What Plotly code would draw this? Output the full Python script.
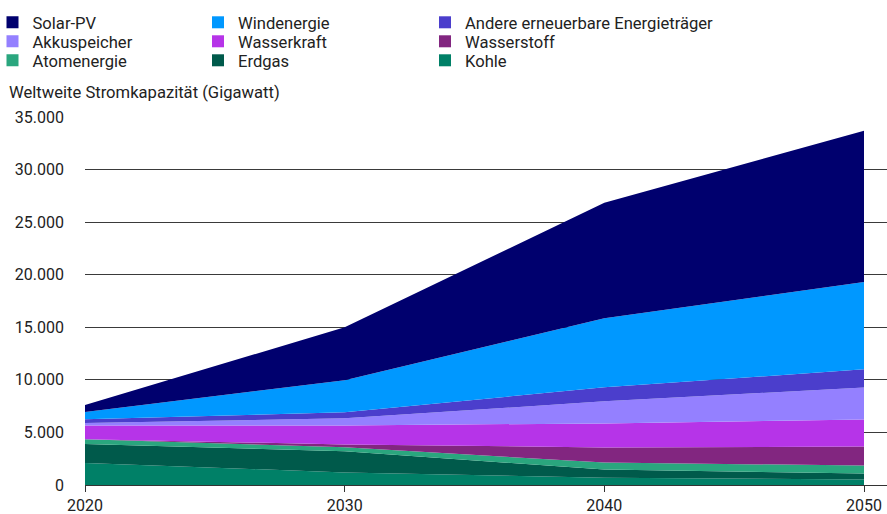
import plotly.graph_objects as go

# ---- data ----
years = [2020, 2030, 2040, 2050]
series_names = ["Kohle", "Erdgas", "Atomenergie", "Wasserstoff", "Wasserkraft",
                "Akkuspeicher", "Andere erneuerbare Energieträger", "Windenergie", "Solar-PV"]
kohle = [2100, 1200, 700, 520]
erdgas = [1800, 2000, 770, 570]
atom = [450, 380, 670, 760]
wasserstoff = [0, 280, 1430, 1810]
wasserkraft = [1300, 1810, 2290, 2570]
akku = [250, 670, 2100, 3050]
andere = [350, 570, 1330, 1720]
wind = [700, 3050, 6580, 8300]
solar = [650, 5050, 10970, 14400]
series_values = [kohle, erdgas, atom, wasserstoff, wasserkraft, akku, andere, wind, solar]
y_ticks = [0, 5000, 10000, 15000, 20000, 25000, 30000, 35000]
x_ticks = [2020, 2030, 2040, 2050]

colors = {
    "Solar-PV": "#00006E",
    "Windenergie": "#0098FF",
    "Andere erneuerbare Energieträger": "#4B3ECC",
    "Akkuspeicher": "#9480FF",
    "Wasserkraft": "#B634E8",
    "Wasserstoff": "#822680",
    "Atomenergie": "#2AA67E",
    "Erdgas": "#005A4B",
    "Kohle": "#008067",
}

# legend layout: (name, column, row)
legend_layout = [
    ("Solar-PV", 0, 0), ("Windenergie", 1, 0), ("Andere erneuerbare Energieträger", 2, 0),
    ("Akkuspeicher", 0, 1), ("Wasserkraft", 1, 1), ("Wasserstoff", 2, 1),
    ("Atomenergie", 0, 2), ("Erdgas", 1, 2), ("Kohle", 2, 2),
]
col_left_px = [-7.5, 198, 425]   # legend box left edge (page px)
row_px = [22.5, 41.5, 60.5]      # row centre y (page px)

W, H = 887, 514
ML, MR, MT, MB = 85, 0, 117, 29
PW, PH = W - ML - MR, H - MT - MB
FONT = "Roboto"
TXT = "#222222"

def px2x(px):
    return (px - ML) / PW

def py2y(py):
    return (H - MB - py) / PH

fig = go.Figure()
for name, vals in zip(series_names, series_values):
    fig.add_trace(go.Scatter(
        x=years, y=vals, name=name, mode="lines", stackgroup="one",
        line=dict(width=0, color=colors[name]), fillcolor=colors[name],
        showlegend=False, hoverinfo="skip",
    ))

legend_defs = {}
for i, (name, c, r) in enumerate(legend_layout):
    lid = "legend" if i == 0 else f"legend{i+1}"
    fig.add_trace(go.Scatter(
        x=[None], y=[None], mode="markers", name=name,
        marker=dict(symbol="square", size=12, color=colors[name], line=dict(width=0)),
        showlegend=True, legend=lid,
    ))
    legend_defs[lid] = dict(
        x=px2x(col_left_px[c]), xanchor="left",
        y=py2y(row_px[r]), yanchor="middle",
        bgcolor="rgba(0,0,0,0)", borderwidth=0,
        font=dict(family=FONT, size=16.6, color=TXT),
        itemclick=False, itemdoubleclick=False,
    )

fig.update_layout(
    width=W, height=H,
    margin=dict(l=ML, r=MR, t=MT, b=MB, pad=0, autoexpand=False),
    paper_bgcolor="white", plot_bgcolor="white",
    separators=",.",
    font=dict(family=FONT, size=16, color=TXT),
    showlegend=True,
    **legend_defs,
)

fig.update_xaxes(
    range=[2020, 2050 + (W - 864) * 30 / (864 - ML)],
    tickvals=x_ticks, ticktext=[str(v) for v in x_ticks],
    showgrid=False, zeroline=False,
    showline=True, linecolor="#333333", linewidth=1,
    ticks="outside", ticklen=6, tickcolor="#333333", tickwidth=1,
    tickfont=dict(family=FONT, size=16, color=TXT),
)
fig.update_yaxes(
    range=[0, 35000], tickvals=y_ticks, tickformat=",d",
    showgrid=True, gridcolor="#3a3a3a", gridwidth=1,
    zeroline=False, showline=False, ticks="",
    ticklabelstandoff=20,
    tickfont=dict(family=FONT, size=16, color=TXT),
)

fig.add_annotation(
    text="Weltweite Stromkapazität (Gigawatt)",
    xref="paper", yref="paper", x=px2x(7), y=py2y(93),
    xanchor="left", yanchor="middle", showarrow=False,
    font=dict(family=FONT, size=16.6, color=TXT),
)

fig.write_html("out.html")
